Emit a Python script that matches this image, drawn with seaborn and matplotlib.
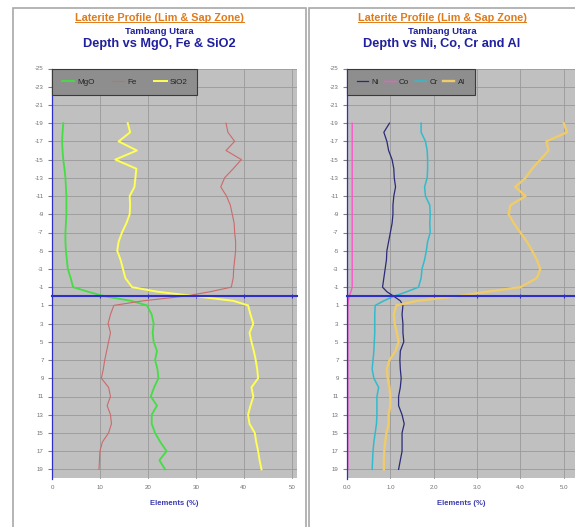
import matplotlib
matplotlib.use("Agg")
import matplotlib.pyplot as plt
from matplotlib.lines import Line2D
from matplotlib.patches import Rectangle
import seaborn as sns
import pandas as pd

# depth (m) relative to the limonite/saprolite contact
depth = [-19, -18, -17, -16, -15, -14, -13, -12, -11, -10, -9, -8, -7, -6, -5, -4, -3, -2, -1,
         -0.5, 0, 0.5,
         1, 2, 3, 4, 5, 6, 7, 8, 9, 10, 11, 12, 13, 14, 15, 16, 17, 18, 19]

mgo = [2.35, 2.2, 2.1, 2.2, 2.35, 2.6, 2.8, 2.9, 3.0, 3.0, 3.0, 2.9, 2.8, 2.8, 2.9, 3.1, 3.3, 3.9, 4.4,
       7.5, 11.0, 16.5,
       19.8, 20.8, 21.2, 21.0, 21.2, 21.9, 21.5, 22.0, 22.2, 21.3, 20.6, 21.9, 20.8, 20.8, 21.5, 22.6, 23.9, 22.4, 23.6]
fe = [36.3, 36.7, 38.1, 36.3, 39.5, 37.8, 36.0, 35.2, 36.4, 37.2, 37.6, 38.0, 38.1, 38.3, 38.3, 38.1, 37.9, 37.8, 37.4,
      33.0, 27.5, 19.0,
      12.9, 12.2, 11.7, 12.2, 11.8, 11.4, 11.0, 10.7, 10.3, 11.8, 12.2, 11.5, 12.2, 12.4, 11.8, 10.5, 10.0, 9.9, 9.8]
sio2 = [15.8, 16.3, 13.9, 17.7, 13.2, 17.6, 17.4, 17.2, 16.2, 16.3, 16.2, 15.5, 14.6, 13.9, 13.6, 14.3, 14.8, 15.3, 16.7,
        22.0, 30.0, 37.8,
        40.9, 41.4, 42.0, 41.2, 41.6, 42.1, 42.5, 42.8, 43.0, 41.6, 42.0, 41.4, 40.9, 41.2, 42.3, 42.6, 43.0, 43.3, 43.7]

ni = [0.98, 0.85, 0.92, 0.96, 1.04, 1.08, 1.09, 1.12, 1.08, 1.06, 1.06, 1.04, 1.0, 0.96, 0.92, 0.91, 0.88, 0.85, 0.82,
      0.92, 1.08, 1.23,
      1.29, 1.27, 1.29, 1.29, 1.31, 1.23, 1.22, 1.23, 1.25, 1.23, 1.19, 1.19, 1.27, 1.32, 1.27, 1.27, 1.27, 1.23, 1.19]
co = [0.12, 0.12, 0.12, 0.12, 0.12, 0.12, 0.12, 0.12, 0.12, 0.12, 0.12, 0.12, 0.12, 0.12, 0.12, 0.12, 0.12, 0.12, 0.12,
      0.09, 0.05, 0.03,
      0.02, 0.02, 0.02, 0.02, 0.02, 0.02, 0.02, 0.02, 0.02, 0.02, 0.02, 0.02, 0.02, 0.02, 0.02, 0.02, 0.02, 0.02, 0.02]
cr = [1.71, 1.71, 1.81, 1.85, 1.86, 1.86, 1.85, 1.79, 1.81, 1.91, 1.92, 1.91, 1.92, 1.86, 1.83, 1.79, 1.73, 1.71, 1.65,
      1.38, 1.08, 0.85,
      0.65, 0.64, 0.64, 0.64, 0.63, 0.62, 0.60, 0.58, 0.62, 0.73, 0.69, 0.69, 0.69, 0.68, 0.65, 0.62, 0.60, 0.59, 0.58]
al = [5.0, 5.08, 4.6, 4.65, 4.46, 4.27, 4.12, 3.88, 4.12, 3.77, 3.73, 3.85, 4.0, 4.15, 4.27, 4.38, 4.46, 4.38, 4.0,
      3.23, 2.54, 1.62,
      1.14, 1.08, 1.10, 1.15, 1.19, 1.12, 0.98, 0.92, 0.94, 0.98, 1.0, 1.0, 0.96, 0.96, 0.91, 0.88, 0.86, 0.85, 0.85]

y_ticks = list(range(-25, 20, 2))
left_xticks = [0, 10, 20, 30, 40, 50]
right_xticks = [0.0, 1.0, 2.0, 3.0, 4.0, 5.0]

plt.rcParams["font.family"] = ["Liberation Sans", "DejaVu Sans"]
plt.rcParams["axes.unicode_minus"] = False

BLUE = "#2f2fc8"
NAVY = "#1f1fa0"
ORANGE = "#e07b1a"
W, H = 575, 527

fig = plt.figure(figsize=(W / 100, H / 100), dpi=100)

# panel frames
for x0, x1 in [(13, 306), (309, 576)]:
    fig.add_artist(Rectangle((x0 / W, -0.01), (x1 - x0) / W, 1 - 8 / H + 0.01,
                             transform=fig.transFigure, fill=False,
                             edgecolor="#a8a8a8", lw=1.2))

ax_l = fig.add_axes([52 / W, 1 - 478.5 / H, (296.5 - 52) / W, 410 / H])
ax_r = fig.add_axes([347 / W, 1 - 478.5 / H, (575 - 347) / W, 410 / H])


def style_axis(ax, xticks, xlim, fmt):
    ax.set_facecolor("#c0c0c0")
    ax.set_xlim(*xlim)
    ax.set_ylim(20, -25)
    ax.set_yticks(y_ticks)
    ax.set_xticks(xticks)
    ax.grid(True, color="#999999", lw=0.6)
    ax.set_axisbelow(True)
    for s in ["top", "right"]:
        ax.spines[s].set_visible(False)
    ax.spines["left"].set_color(BLUE)
    ax.spines["left"].set_linewidth(0.9)
    ax.spines["bottom"].set_position(("data", 0))
    ax.spines["bottom"].set_color(BLUE)
    ax.spines["bottom"].set_linewidth(1.5)
    ax.spines["bottom"].set_zorder(5)
    ax.tick_params(axis="x", direction="inout", length=3.5, color=BLUE,
                   labelbottom=False)
    ax.tick_params(axis="y", direction="out", length=3, color="#808080",
                   labelsize=4.4, labelcolor="#707070", pad=3)
    ax.set_xlabel("")
    ax.set_ylabel("")
    sec = ax.secondary_xaxis("bottom")
    sec.set_xticks(xticks)
    sec.set_xticklabels([fmt.format(v) for v in xticks])
    sec.spines["bottom"].set_visible(False)
    sec.tick_params(length=0, labelsize=4.4, labelcolor="#707070", pad=5)
    sec.set_xlabel("Elements (%)", fontsize=5.5, fontweight="bold",
                   color="#3b3bb0", labelpad=7)


left_series = [("MgO", mgo, "#44dd44", 1.3), ("Fe", fe, "#cc6a6a", 0.8),
               ("SiO2", sio2, "#ffff55", 1.4)]
right_series = [("Ni", ni, "#2a2a78", 0.9), ("Co", co, "#ff55cc", 1.0),
                ("Cr", cr, "#33bbcc", 1.1), ("Al", al, "#efcb6a", 1.7)]

for ax, series in [(ax_l, left_series), (ax_r, right_series)]:
    for name, vals, color, lw in series:
        df = pd.DataFrame({"depth": depth, "value": vals})
        sns.lineplot(data=df, x="value", y="depth", orient="y", sort=False,
                     estimator=None, color=color, lw=lw, label=name, ax=ax)

style_axis(ax_l, left_xticks, (0, 51), "{:.0f}")
style_axis(ax_r, right_xticks, (0, 5.26), "{:.1f}")

for ax, ncol, colsp, hl in [(ax_l, 3, 2.2, 1.5), (ax_r, 4, 0.7, 1.4)]:
    leg = ax.legend(loc="upper left", bbox_to_anchor=(0, 1), borderaxespad=0,
                    ncol=ncol, fontsize=5.8, frameon=True, fancybox=False,
                    facecolor="#8e8e8e", edgecolor="#3a3a3a", framealpha=1,
                    handlelength=hl, handletextpad=0.4, columnspacing=colsp,
                    borderpad=1.2)
    leg.get_frame().set_linewidth(0.8)
    for t in leg.get_texts():
        t.set_color("#222222")

# titles
titles = [(159.5, "Depth vs MgO, Fe & SiO2"), (442, "Depth vs Ni, Co, Cr and Al")]
fig.canvas.draw()
renderer = fig.canvas.get_renderer()
for cx, main in titles:
    t1 = fig.text(cx / W, 1 - 18 / H, "Laterite Profile (Lim & Sap Zone)",
                  ha="center", va="center", fontsize=7.8, fontweight="bold",
                  color=ORANGE)
    fig.text(cx / W, 1 - 31 / H, "Tambang Utara", ha="center", va="center",
             fontsize=6.8, fontweight="bold", color=NAVY)
    fig.text(cx / W, 1 - 43.5 / H, main, ha="center", va="center",
             fontsize=9.2, fontweight="bold", color=NAVY)
    bb = t1.get_window_extent(renderer).transformed(fig.transFigure.inverted())
    fig.add_artist(Line2D([bb.x0, bb.x1], [bb.y0 + 0.002, bb.y0 + 0.002],
                          transform=fig.transFigure, color=ORANGE, lw=0.7))

fig.savefig("out.png", dpi=100)
